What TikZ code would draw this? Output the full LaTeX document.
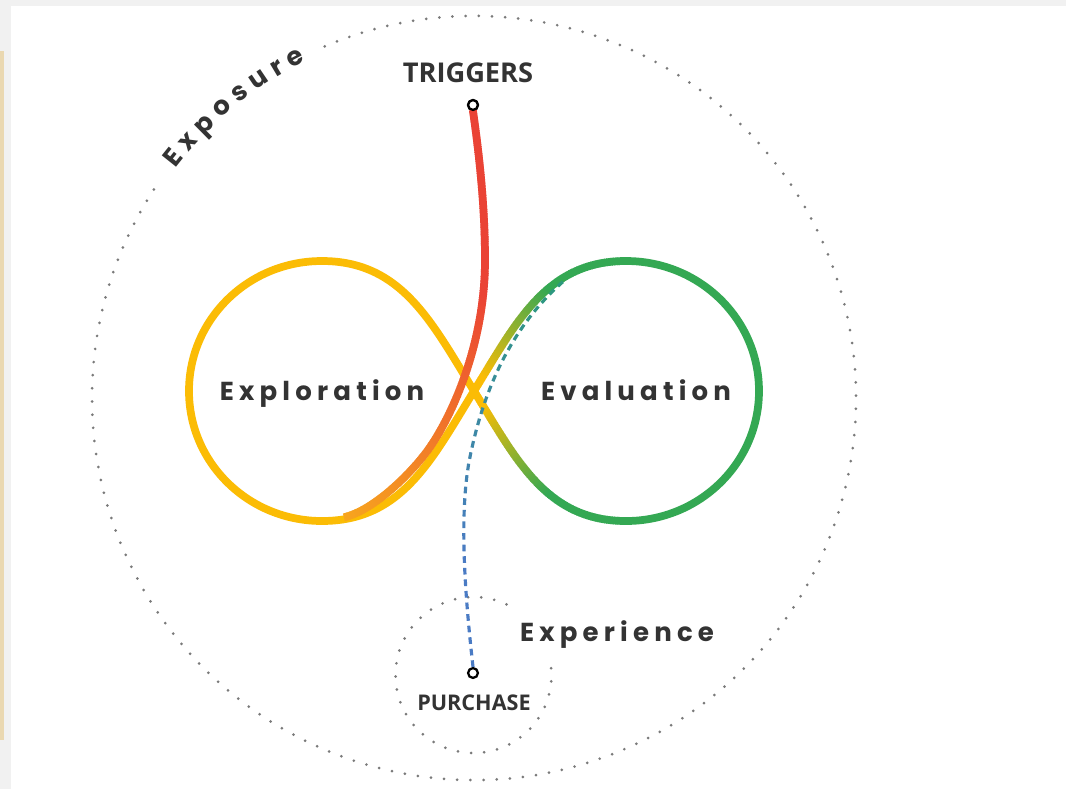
\documentclass[tikz,border=0pt]{standalone}
\usepackage{fontspec}
\setmainfont{Poppins}
\newfontfamily\tagfont{Open Sans}
\newfontfamily\loopfont[LetterSpace=20]{Poppins}
\usetikzlibrary{decorations.markings,decorations.text}

\definecolor{pagegray}{HTML}{F1F1F1}
\definecolor{sidebeige}{HTML}{EAD8B1}
\definecolor{dotgray}{HTML}{7A7A7A}
\definecolor{inkgray}{HTML}{333333}
\definecolor{gyellow}{HTML}{FBBC05}
\definecolor{ggreen}{HTML}{34A853}
\definecolor{gred}{HTML}{EA4335}
\definecolor{gamber}{HTML}{F7A51E}
\definecolor{gblue}{HTML}{4A7BC4}
\definecolor{gteal}{HTML}{2B9A7A}

\begin{document}
\begin{tikzpicture}[x=0.02cm, y=-0.02cm,
        dotring/.style={draw=dotgray, line width=1.7pt, line cap=round, dash pattern=on 0pt off 7.5pt},
        loopline/.style={line width=4.4pt},
        tipdot/.style={circle, draw=black, fill=white, line width=1.3pt, inner sep=0pt, minimum size=5.6pt},
        looplabel/.style={font=\loopfont\bfseries\fontsize{14.8}{18}\selectfont, text=inkgray, anchor=base},
        taglabel/.style={font=\tagfont\bfseries\fontsize{15.5}{18}\selectfont, text=inkgray, anchor=base},
        fadeline/.style n args={4}{decoration={markings,
            mark=between positions 0 and 1 step 1pt with {%
                \pgfmathsetmacro\mixpct{max(0,min(100,100*(\pgfkeysvalueof{/pgf/decoration/mark info/distance from start}/\pgfdecoratedpathlength-#3)/(#4-#3)))}%
                \draw[line width=4.4pt, color=#2!\mixpct!#1] (-0.7pt,0) -- (0.7pt,0);}}, decorate},
        fadedash/.style n args={4}{decoration={markings,
            mark=between positions 0 and 1 step 6.6pt with {%
                \pgfmathsetmacro\mixpct{max(0,min(100,100*(\pgfkeysvalueof{/pgf/decoration/mark info/distance from start}/\pgfdecoratedpathlength-#3)/(#4-#3)))}%
                \draw[line width=1.8pt, color=#2!\mixpct!#1] (0,0) -- (3.8pt,0);}}, decorate}
    ]
        \useasboundingbox (0,0) rectangle (1066,789);

        % Page background
        \fill[pagegray] (0,0) rectangle (1066,789);
        \fill[white] (11,6) rectangle (1066,789);
        \fill[sidebeige] (0,51) rectangle (4,740);

        % Anchor points
        \coordinate (ctr) at (474,398);
        \coordinate (expctr) at (473.5,675);
        \coordinate (cross) at (474,391);
        \coordinate (ltop) at (322,261);
        \coordinate (lleft) at (189,391);
        \coordinate (lbot) at (322,521);
        \coordinate (rtop) at (626,261);
        \coordinate (rright) at (759,391);
        \coordinate (rbot) at (626,521);
        \coordinate (merge) at (345,517);
        \coordinate (evaljoin) at (565,280);

        % Exposure and experience rings
        \draw[dotring] ([shift={(-113:382)}]ctr) arc[start angle=-113, end angle=215, radius=382];
        \draw[dotring] ([shift={(-5:78)}]expctr) arc[start angle=-5, end angle=298, radius=78];
        \coordinate (expostart) at ([shift={(-142.5:382)}]ctr);
        \path[decorate, decoration={text along path, raise=-3pt,
            text={|\bfseries\fontsize{14.8}{18}\selectfont\color{inkgray}|E x p o s u r e},
            text align={fit to path stretching spaces}}]
            (expostart) arc[start angle=-142.5, end angle=-116.5, radius=382];

        % Exploration loop
        \draw[loopline, gyellow] (cross) .. controls (432,323) and (402,261) .. (ltop)
            .. controls (248.5,261) and (189,319) .. (lleft)
            .. controls (189,463) and (248.5,521) .. (lbot)
            .. controls (402,521) and (432,459) .. (cross);

        % Evaluation loop
        \draw[loopline, ggreen] (rtop) .. controls (699.5,261) and (759,319) .. (rright)
            .. controls (759,463) and (699.5,521) .. (rbot);
        \path[fadeline={gyellow}{ggreen}{0.08}{0.6}] (cross) .. controls (516,323) and (546,261) .. (rtop);
        \path[fadeline={gyellow}{ggreen}{0.08}{0.6}] (cross) .. controls (516,459) and (546,521) .. (rbot);

        % Points
        \node[tipdot] (trig) at (473,105) {};
        \node[tipdot] (pur) at (473,673) {};

        % Purchase path
        \path[fadedash={gblue}{gteal}{0.25}{1}] (pur.north) .. controls (466,604) and (458,516) .. (470,457)
            .. controls (484,388) and (512.5,325) .. (evaljoin);

        % Trigger path
        \path[fadeline={gred}{gamber}{0.4}{1}] (trig.south) .. controls (480,160) and (485,210) .. (485,260)
            .. controls (485,345) and (451,418) .. (428,450)
            .. controls (413.5,470) and (376.6,509) .. (merge);
        \node[tipdot] at (trig) {};

        % Labels
        \node[taglabel] (trigtext) at (468,82) {TRIGGERS};
        \node[taglabel, font=\tagfont\bfseries\fontsize{12.3}{15}\selectfont] (purtext) at (474,710) {PURCHASE};
        \node[looplabel] (explor) at (322,400) {Exploration};
        \node[looplabel] (evalu) at (636,400) {Evaluation};
        \node[looplabel] (exper) at (617,641) {Experience};
    \end{tikzpicture}
\end{document}
